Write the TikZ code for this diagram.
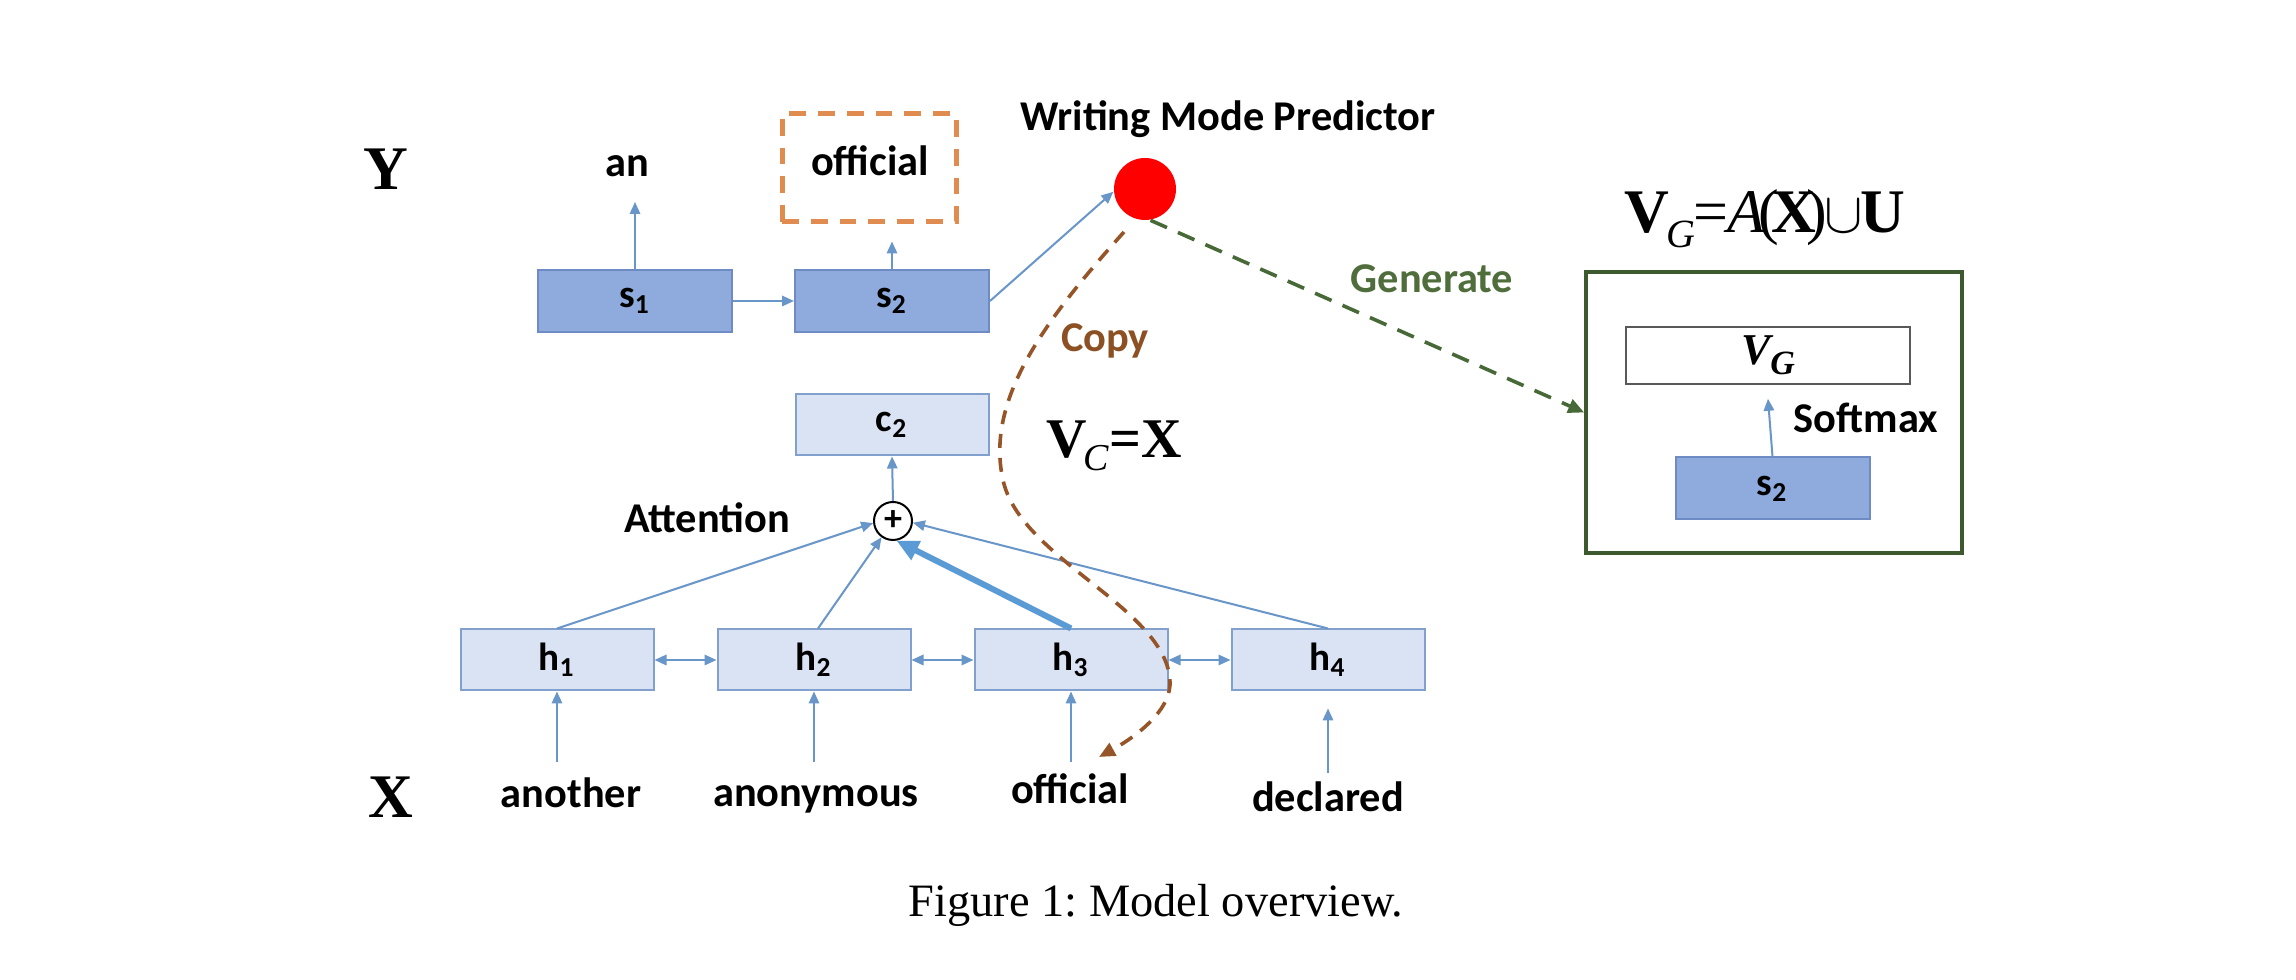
\documentclass[tikz,border=0pt]{standalone}
\usepackage{fontspec}
\setmainfont{Liberation Serif}
\newfontfamily\calibri{Carlito}
\usetikzlibrary{arrows.meta}
\definecolor{sfill}{RGB}{143,170,220}
\definecolor{sborder}{RGB}{110,140,195}
\definecolor{hfill}{RGB}{218,227,243}
\definecolor{hborder}{RGB}{130,160,205}
\definecolor{arrc}{RGB}{105,150,200}
\definecolor{thickc}{RGB}{91,155,213}
\definecolor{outor}{RGB}{224,140,80}
\definecolor{copyc}{RGB}{150,85,40}
\definecolor{copyt}{RGB}{140,80,35}
\definecolor{genc}{RGB}{70,105,55}
\definecolor{gent}{RGB}{80,110,60}
\definecolor{gboxc}{RGB}{60,90,45}
\newcommand\wf{\calibri\bfseries\fontsize{10.6}{12}\selectfont}
\newcommand\boxf{\calibri\bfseries\fontsize{9.8}{11}\selectfont}
\newcommand\bigserif{\fontsize{15.5}{17}\selectfont}
\frenchspacing
\begin{document}
\begin{tikzpicture}[x=0.25pt,y=-0.25pt,
  sbox/.style={draw=sborder,fill=sfill,line width=0.5pt,minimum width=48.5pt,minimum height=15.5pt,inner sep=0pt,font=\boxf},
  hbox/.style={draw=hborder,fill=hfill,line width=0.5pt,minimum width=48.25pt,minimum height=15.25pt,inner sep=0pt,font=\boxf},
  word/.style={font=\wf,inner sep=0pt,anchor=base},
  arr/.style={draw=arrc,line width=0.5pt,-{Triangle[length=3pt,width=2.6pt]}},
  darr/.style={draw=arrc,line width=0.5pt,{Triangle[length=3pt,width=2.6pt]}-{Triangle[length=3pt,width=2.6pt]}},
  bigl/.style={font=\bigserif\bfseries,inner sep=0pt,anchor=base},
  math/.style={font=\bigserif,inner sep=0pt,anchor=base},
]
\useasboundingbox (0,0) rectangle (2296,980);
\fill[white] (0,0) rectangle (2296,980);
% left labels
\node[bigl] (Y) at (386,190) {Y};
\node[bigl] (X) at (391,818) {X};
% output
\node[draw=outor,line width=1.25pt,dash pattern=on 4.2pt off 3pt,minimum width=43.5pt,minimum height=27pt,inner sep=0pt] (outbox) at (869,168) {};
\node[word] (an) at (627,177) {an};
\node[word] (yoff) at (870,176) {official};
% decoder
\node[sbox] (s1) at (635,301) {s\textsubscript{1}};
\node[sbox] (s2) at (892,301) {s\textsubscript{2}};
\node[hbox] (c2) at (892,425) {c\textsubscript{2}};
\node[circle,draw=black,line width=0.5pt,fill=white,minimum size=9.5pt,inner sep=0pt,font=\calibri\bfseries\fontsize{9}{9}\selectfont] (att) at (893,521) {+};
\node[word] (attn) at (707,533) {Attention};
% encoder
\node[hbox] (h1) at (557,660) {h\textsubscript{1}};
\node[hbox] (h2) at (814,660) {h\textsubscript{2}};
\node[hbox] (h3) at (1071,660) {h\textsubscript{3}};
\node[hbox] (h4) at (1328,660) {h\textsubscript{4}};
\node[word] (w1) at (571,808) {another};
\node[word] (w2) at (816,807) {anonymous};
\node[word] (w3) at (1070,804) {official};
\node[word] (w4) at (1328,812) {declared};
\coordinate (in1) at (557,762);
\coordinate (in2) at (814,762);
\coordinate (in3) at (1071,762);
\coordinate (in4) at (1328,773);
% predictor
\node[circle,fill=red,minimum size=15.5pt,inner sep=0pt] (pred) at (1145,189) {};
\node[word] (wmp) at (1228,131) {Writing Mode Predictor};
\node[word,text=gent] (gen) at (1432,293) {Generate};
\node[word,text=copyt] (copy) at (1105,352) {Copy};
\node[math,font=\fontsize{14}{16}\selectfont] (vc) at (1114,458) {\textbf{V}\kern-0.05em\raisebox{-0.5ex}{\fontsize{9.5}{10}\selectfont\itshape C}\textbf{=X}};
\coordinate (cps) at (1124,232);
\coordinate (cpe) at (1099,757);
% generate box
\node[draw=gboxc,line width=0.9pt,minimum width=94pt,minimum height=70.25pt,inner sep=0pt] (gb) at (1774,412.5) {};
\node[draw=black!65,line width=0.4pt,minimum width=71pt,minimum height=14.25pt,inner sep=0pt,font=\bfseries\itshape\fontsize{11}{12}\selectfont] (vg) at (1768,355.5) {V\raisebox{-0.5ex}{\fontsize{8.5}{9}\selectfont G}};
\node[sbox] (s2b) at (1772.5,488.5) {s\textsubscript{2}};
\node[word] (soft) at (1866,433) {Softmax};
\node[math] (vgf) at (1765,233) {\textbf{V}\kern-0.05em\raisebox{-0.5ex}{\fontsize{10}{10}\selectfont\itshape G}\kern-0.02em=\kern-0.02em\textit{A}\kern-0.12em(\kern-0.12em\textbf{X}\kern-0.15em)\kern-0.05em$\cup$\kern-0.03em\textbf{U}};
% caption
\node[font=\fontsize{11.6}{13}\selectfont,anchor=base,inner sep=0pt] (cap) at (1156,917) {Figure 1: Model overview.};
% connectors
\draw[arr,shorten >=6.25pt] (s1.north) -- (s1.north |- an.base);
\draw[arr,shorten >=4.25pt] (s2.north) -- (s2.north |- outbox.south);
\draw[arr] (s1.east) -- (s2.west);
\draw[arr] (s2.east) -- (pred.185);
\draw[arr] (att.north) -- (c2.south);
\draw[arr] (h1.north) -- (att.186);
\draw[arr] ([xshift=1pt]h2.north) -- (att.235);
\draw[thickc,line width=1.5pt,-{Triangle[length=5.5pt,width=5pt]}] (h3.north) -- (att.-80);
\draw[arr] (h4.north) -- (att.-5);
\draw[darr] (h1) -- (h2);
\draw[darr] (h2) -- (h3);
\draw[darr] (h3) -- (h4);
\draw[arr] (in1) -- (h1.south);
\draw[arr] (in2) -- (h2.south);
\draw[arr] (in3) -- (h3.south);
\draw[arr,shorten >=4.25pt] (in4) -- (h4.south);
\draw[arr] (s2b.north) -- ([yshift=-3.5pt]vg.south);
\draw[copyc,line width=0.9pt,dash pattern=on 3.5pt off 2.5pt,-{Triangle[length=4pt,width=3.5pt]}] (cps) .. controls (1045,320) and (985,400) .. (1003,480) .. controls (1020,560) and (1172,610) .. (1170,685) .. controls (1168,715) and (1130,740) .. (cpe);
\draw[genc,line width=0.9pt,dash pattern=on 4.5pt off 3pt,-{Triangle[length=4pt,width=3.5pt]}] (pred.-80) -- (gb.west);
\end{tikzpicture}
\end{document}
